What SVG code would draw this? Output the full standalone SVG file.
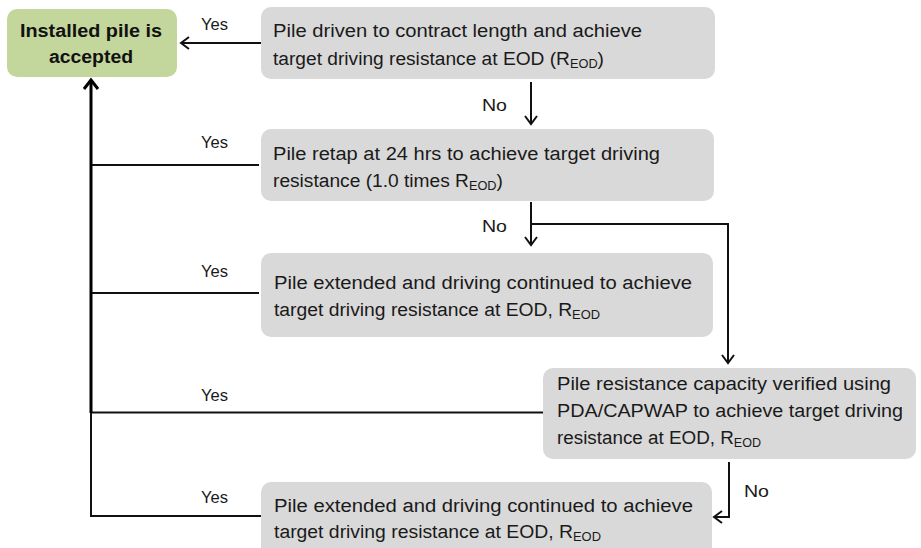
<svg xmlns="http://www.w3.org/2000/svg" width="921" height="548" viewBox="0 0 921 548">
<style>
.box{fill:#d9d9d9;}
.ok{fill:#c3d69b;}
.t{font-family:"Liberation Sans",Arial,sans-serif;font-size:18px;fill:#1a1a1a;}
.b{font-family:"Liberation Sans",Arial,sans-serif;font-size:17.5px;font-weight:bold;fill:#111;}
.l{font-family:"Liberation Sans",Arial,sans-serif;font-size:17px;fill:#1a1a1a;}
.s{font-size:12px;}
.c{fill:none;stroke:#111;stroke-width:2;}
.ck{fill:none;stroke:#000;stroke-width:3;}
</style>
<defs>
<marker id="ah" markerUnits="userSpaceOnUse" markerWidth="14" markerHeight="16" refX="11" refY="8" orient="auto">
<path d="M3,2 L11,8 L3,14" fill="none" stroke="#111" stroke-width="2"/>
</marker>
<marker id="ahk" markerUnits="userSpaceOnUse" markerWidth="16" markerHeight="18" refX="12" refY="9" orient="auto">
<path d="M3,2 L12,9 L3,16" fill="none" stroke="#000" stroke-width="3"/>
</marker>
</defs>

<g id="connectors">
<line class="c" x1="261" y1="43" x2="181" y2="43" marker-end="url(#ah)"/>
<line class="c" x1="531" y1="82" x2="531" y2="124" marker-end="url(#ah)"/>
<line class="c" x1="531" y1="202" x2="531" y2="245" marker-end="url(#ah)"/>
<polyline class="c" points="531,224 728,224 728,363" marker-end="url(#ah)"/>
<polyline class="c" points="729,462 729,517 714,517" marker-end="url(#ah)"/>
<line class="c" x1="259" y1="165" x2="91" y2="165"/>
<line class="c" x1="259" y1="293" x2="91" y2="293"/>
<line class="c" x1="543" y1="412.5" x2="91" y2="412.5"/>
<line class="c" x1="261" y1="516" x2="91" y2="516"/>
<line class="c" x1="91" y1="517" x2="91" y2="411"/>
<line class="ck" x1="91" y1="413" x2="91" y2="80" marker-end="url(#ahk)"/>
<text class="l" x="201" y="30" textLength="27" lengthAdjust="spacingAndGlyphs">Yes</text>
<text class="l" x="201" y="148" textLength="27" lengthAdjust="spacingAndGlyphs">Yes</text>
<text class="l" x="201" y="277" textLength="27" lengthAdjust="spacingAndGlyphs">Yes</text>
<text class="l" x="201" y="401" textLength="27" lengthAdjust="spacingAndGlyphs">Yes</text>
<text class="l" x="201" y="503" textLength="27" lengthAdjust="spacingAndGlyphs">Yes</text>
<text class="l" x="482" y="111" textLength="25" lengthAdjust="spacingAndGlyphs">No</text>
<text class="l" x="482" y="232" textLength="25" lengthAdjust="spacingAndGlyphs">No</text>
<text class="l" x="744" y="497" textLength="25" lengthAdjust="spacingAndGlyphs">No</text>
</g>

<g id="accepted">
<rect class="ok" x="7" y="9" width="170" height="68" rx="10"/>
<text class="b" x="20" y="37" textLength="142" lengthAdjust="spacingAndGlyphs">Installed pile is</text>
<text class="b" x="49" y="63" textLength="84" lengthAdjust="spacingAndGlyphs">accepted</text>
</g>

<g id="n1">
<rect class="box" x="261" y="7" width="454" height="72" rx="10"/>
<text class="t" x="273" y="37" textLength="369" lengthAdjust="spacingAndGlyphs">Pile driven to contract length and achieve</text>
<text class="t" x="273" y="65" textLength="331" lengthAdjust="spacingAndGlyphs">target driving resistance at EOD (R<tspan class="s" dy="3">EOD</tspan><tspan dy="-3">)</tspan></text>
</g>

<g id="n2">
<rect class="box" x="261" y="129" width="453" height="72" rx="10"/>
<text class="t" x="273" y="160" textLength="387" lengthAdjust="spacingAndGlyphs">Pile retap at 24 hrs to achieve target driving</text>
<text class="t" x="273" y="187" textLength="230" lengthAdjust="spacingAndGlyphs">resistance (1.0 times R<tspan class="s" dy="3">EOD</tspan><tspan dy="-3">)</tspan></text>
</g>

<g id="n3">
<rect class="box" x="261" y="253" width="452" height="84" rx="10"/>
<text class="t" x="274" y="289" textLength="418" lengthAdjust="spacingAndGlyphs">Pile extended and driving continued to achieve</text>
<text class="t" x="274" y="316" textLength="326" lengthAdjust="spacingAndGlyphs">target driving resistance at EOD, R<tspan class="s" dy="3">EOD</tspan></text>
</g>

<g id="n4">
<rect class="box" x="543" y="368" width="373" height="91" rx="10"/>
<text class="t" x="557" y="390" textLength="334" lengthAdjust="spacingAndGlyphs">Pile resistance capacity verified using</text>
<text class="t" x="557" y="417" textLength="346" lengthAdjust="spacingAndGlyphs">PDA/CAPWAP to achieve target driving</text>
<text class="t" x="557" y="444" textLength="204" lengthAdjust="spacingAndGlyphs">resistance at EOD, R<tspan class="s" dy="3">EOD</tspan></text>
</g>

<g id="n5">
<rect class="box" x="261" y="482" width="451" height="80" rx="10"/>
<text class="t" x="274" y="512" textLength="419" lengthAdjust="spacingAndGlyphs">Pile extended and driving continued to achieve</text>
<text class="t" x="274" y="538" textLength="327" lengthAdjust="spacingAndGlyphs">target driving resistance at EOD, R<tspan class="s" dy="3">EOD</tspan></text>
</g>
</svg>
